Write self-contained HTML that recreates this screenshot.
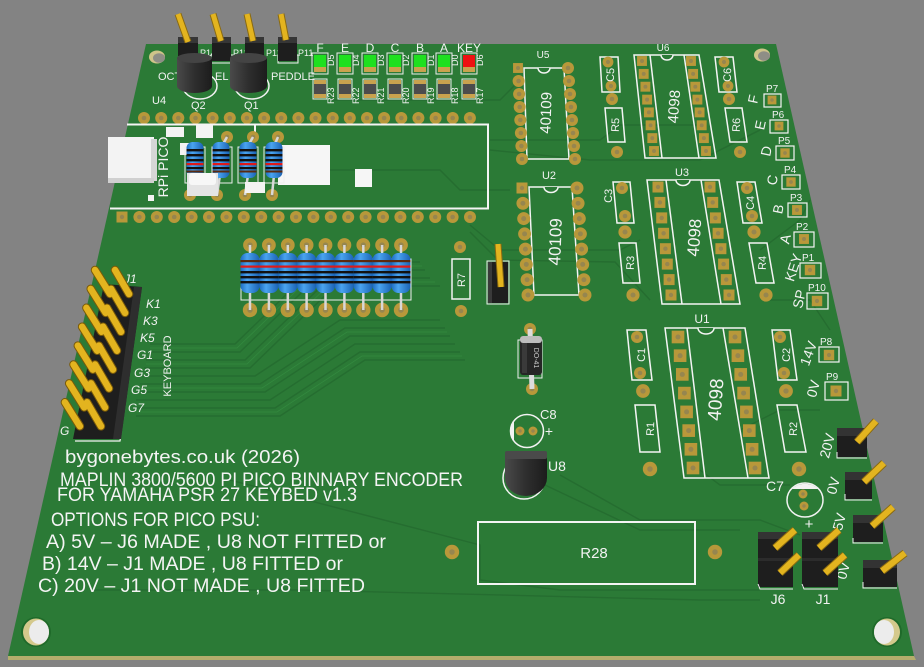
<!DOCTYPE html>
<html><head><meta charset="utf-8"><style>html,body{margin:0;padding:0;background:#838383}svg{display:block}</style></head><body>
<svg width="924" height="667" viewBox="0 0 924 667" xmlns="http://www.w3.org/2000/svg" xmlns:xlink="http://www.w3.org/1999/xlink" font-family="'Liberation Sans', sans-serif">
<defs>
<linearGradient id="cyl" x1="0" x2="1" y1="0" y2="0"><stop offset="0" stop-color="#4a4a4a"/><stop offset="0.5" stop-color="#2e2e2e"/><stop offset="1" stop-color="#1c1c1c"/></linearGradient>
<linearGradient id="blu" x1="0" x2="1" y1="0" y2="0"><stop offset="0" stop-color="#1d6cc0"/><stop offset="0.35" stop-color="#4aa4f0"/><stop offset="1" stop-color="#1a62b4"/></linearGradient>
<g id="p"><circle r="6" fill="#b8983a"/><circle r="2.3" fill="#96864f"/></g>
<g id="sq"><rect x="-5.5" y="-5.5" width="11" height="11" fill="#b8983a"/><circle r="2.2" fill="#96864f"/></g>
<g id="rb">
 <rect x="-9.5" y="0" width="19" height="40" rx="7" fill="url(#blu)"/>
 <rect x="-9.5" y="7" width="19" height="2.2" fill="#5a2a10"/>
 <rect x="-9.5" y="12.5" width="19" height="2.2" fill="#e01818"/>
 <rect x="-9.5" y="18" width="19" height="2.4" fill="#111"/>
 <rect x="-9.5" y="23" width="19" height="2.4" fill="#111"/>
 <rect x="-9.5" y="28" width="19" height="2.4" fill="#111"/>
</g>
<g id="rt">
 <rect x="-8.5" y="0" width="17" height="36" rx="6" fill="url(#blu)"/>
 <rect x="-8.5" y="7" width="17" height="2.4" fill="#111"/>
 <rect x="-8.5" y="12" width="17" height="2.4" fill="#111"/>
 <rect x="-8.5" y="17" width="17" height="2.4" fill="#111"/>
 <rect x="-8.5" y="21" width="17" height="2.2" fill="#e01818"/>
 <rect x="-8.5" y="25" width="17" height="2.2" fill="#111"/>
 <rect x="-8.5" y="28.5" width="17" height="2" fill="#5a2a10"/>
</g>
</defs>
<rect width="924" height="667" fill="#838383"/>
<!-- board -->
<polygon points="8,656 914,656 916,660 8,660" fill="#b4ad6c"/>
<polygon points="146,44 776,44 914,656 8,656" fill="#2b7a36"/>

<!-- traces -->
<g fill="none" stroke="#256d30" stroke-width="1.4">
 <polyline points="150,344 235,344 320,262 420,262"/>
 <polyline points="148,352 240,352 325,270 425,270"/>
 <polyline points="146,360 245,360 330,278 430,278"/>
 <polyline points="144,368 250,368 335,286 440,286"/>
 <polyline points="142,376 255,376 340,320 440,320"/>
 <polyline points="140,384 260,384 345,328 445,328"/>
 <polyline points="138,392 265,392 350,336 450,336"/>
 <polyline points="136,400 270,400 355,344 455,344"/>
 <polyline points="136,408 275,408 360,352 460,352"/>
 <polyline points="136,416 280,416 365,360 465,360"/>
 <polyline points="470,225 500,250 620,250 640,240"/>
 <polyline points="470,232 498,260 615,262 650,300"/>
 <polyline points="330,100 500,100 515,85"/>
 <polyline points="490,140 600,140 620,125 700,125"/>
 <polyline points="490,150 590,160 700,160 760,130"/>
 <polyline points="560,475 640,520 760,520 800,535"/>
 <polyline points="545,485 640,530 740,530"/>
 <polyline points="230,480 480,545 480,580 560,590 760,590"/>
 <polyline points="90,590 300,590 700,600 760,600"/>
 <polyline points="700,470 720,485 790,485"/>
 <polyline points="760,250 800,220 810,200"/>
 <polyline points="770,300 810,300 830,330"/>
 <polyline points="740,430 780,410 820,410"/>
 <polyline points="510,190 460,190 440,170 300,170"/>
</g>
<g fill="none" stroke="#33893f" stroke-width="0.8">
 <polyline points="150,348 237,348 322,266 422,266"/>
 <polyline points="146,364 247,364 332,282 435,282"/>
 <polyline points="140,388 262,388 347,332 447,332"/>
 <polyline points="136,412 277,412 362,356 462,356"/>
</g>

<!-- mounting holes -->
<ellipse cx="157" cy="57" rx="8" ry="6.5" fill="#cfc48a"/><ellipse cx="159" cy="58" rx="6" ry="4.8" fill="#8e8e86"/>
<ellipse cx="762" cy="55" rx="8" ry="6.5" fill="#cfc48a"/><ellipse cx="764" cy="56" rx="6" ry="4.8" fill="#8e8e86"/>
<ellipse cx="36" cy="632" rx="15" ry="15" fill="#1f6a2a"/><ellipse cx="36" cy="632" rx="13" ry="13.5" fill="#d4c98c"/><ellipse cx="39" cy="632" rx="10" ry="12" fill="#ececec"/>
<ellipse cx="887" cy="632" rx="15" ry="15" fill="#1f6a2a"/><ellipse cx="887" cy="632" rx="13" ry="13.5" fill="#d4c98c"/><ellipse cx="884" cy="632" rx="10" ry="12" fill="#ececec"/>

<!-- top left labels -->
<g fill="#f2f2f2" font-size="11">
 <text x="158" y="80">OCT.</text><text x="215" y="80">EL</text><text x="271" y="80">PEDDLE</text>
 <text x="152" y="104">U4</text><text x="191" y="109">Q2</text><text x="244" y="109">Q1</text>
 <text x="200" y="56" font-size="9">P14</text><text x="233" y="56" font-size="9">P13</text><text x="266" y="56" font-size="9">P12</text><text x="298" y="56" font-size="9">P11</text>
</g>
<ellipse cx="200" cy="86" rx="17" ry="13" fill="none" stroke="#f2f2f2" stroke-width="1.5"/>
<ellipse cx="252" cy="86" rx="17" ry="13" fill="none" stroke="#f2f2f2" stroke-width="1.5"/>
<rect x="211" y="55" width="22" height="8" fill="none" stroke="#f2f2f2" stroke-width="1"/>
<rect x="278" y="55" width="20" height="8" fill="none" stroke="#f2f2f2" stroke-width="1"/>
<!-- header bases -->
<g>
 <rect x="178" y="37" width="20" height="19" fill="#1e1e1e"/><rect x="178" y="37" width="20" height="6" fill="#363636"/>
 <rect x="212" y="37" width="19" height="24" fill="#1e1e1e"/><rect x="212" y="37" width="19" height="6" fill="#363636"/>
 <rect x="245" y="37" width="19" height="19" fill="#1e1e1e"/><rect x="245" y="37" width="19" height="6" fill="#363636"/>
 <rect x="278" y="37" width="19" height="24" fill="#1e1e1e"/><rect x="278" y="37" width="19" height="6" fill="#363636"/>
</g>
<g stroke-linecap="butt">
 <line x1="188" y1="42" x2="178" y2="14" stroke="#8a6a10" stroke-width="7"/><line x1="188" y1="42" x2="178" y2="14" stroke="#e3b41f" stroke-width="5"/>
 <line x1="221" y1="41" x2="213" y2="14" stroke="#8a6a10" stroke-width="7"/><line x1="221" y1="41" x2="213" y2="14" stroke="#e3b41f" stroke-width="5"/>
 <line x1="253" y1="41" x2="247" y2="14" stroke="#8a6a10" stroke-width="7"/><line x1="253" y1="41" x2="247" y2="14" stroke="#e3b41f" stroke-width="5"/>
 <line x1="286" y1="40" x2="281" y2="14" stroke="#8a6a10" stroke-width="7"/><line x1="286" y1="40" x2="281" y2="14" stroke="#e3b41f" stroke-width="5"/>
</g>
<!-- transistors -->
<path d="M177,58 L177,86 A17.5,7 0 0 0 212,86 L212,58 Z" fill="url(#cyl)"/>
<ellipse cx="194.5" cy="58" rx="17.5" ry="5" fill="#444"/>
<path d="M230,58 L230,86 A18.5,7 0 0 0 267,86 L267,58 Z" fill="url(#cyl)"/>
<ellipse cx="248.5" cy="58" rx="18.5" ry="5" fill="#444"/>

<!-- LEDs -->
<g font-size="12" fill="#f2f2f2" text-anchor="middle">
 <text x="320" y="52">F</text><text x="345" y="52">E</text><text x="370" y="52">D</text><text x="395" y="52">C</text><text x="420" y="52">B</text><text x="444" y="52">A</text><text x="469" y="52">KEY</text>
</g>
<g>
 <g transform="translate(320,0)"><rect x="-8" y="53" width="16" height="21" fill="none" stroke="#eee" stroke-width="1"/><rect x="-6" y="55" width="12" height="12" fill="#1fe01f"/><rect x="-6" y="67" width="12" height="5" fill="#c9a24e"/><rect x="-7" y="79" width="14" height="20" fill="none" stroke="#eee" stroke-width="1"/><rect x="-6" y="80" width="12" height="4" fill="#c9a24e"/><rect x="-6" y="84" width="12" height="10" fill="#4c4c4c"/><rect x="-6" y="94" width="12" height="4" fill="#c9a24e"/></g>
 <g transform="translate(345,0)"><rect x="-8" y="53" width="16" height="21" fill="none" stroke="#eee" stroke-width="1"/><rect x="-6" y="55" width="12" height="12" fill="#1fe01f"/><rect x="-6" y="67" width="12" height="5" fill="#c9a24e"/><rect x="-7" y="79" width="14" height="20" fill="none" stroke="#eee" stroke-width="1"/><rect x="-6" y="80" width="12" height="4" fill="#c9a24e"/><rect x="-6" y="84" width="12" height="10" fill="#4c4c4c"/><rect x="-6" y="94" width="12" height="4" fill="#c9a24e"/></g>
 <g transform="translate(370,0)"><rect x="-8" y="53" width="16" height="21" fill="none" stroke="#eee" stroke-width="1"/><rect x="-6" y="55" width="12" height="12" fill="#1fe01f"/><rect x="-6" y="67" width="12" height="5" fill="#c9a24e"/><rect x="-7" y="79" width="14" height="20" fill="none" stroke="#eee" stroke-width="1"/><rect x="-6" y="80" width="12" height="4" fill="#c9a24e"/><rect x="-6" y="84" width="12" height="10" fill="#4c4c4c"/><rect x="-6" y="94" width="12" height="4" fill="#c9a24e"/></g>
 <g transform="translate(395,0)"><rect x="-8" y="53" width="16" height="21" fill="none" stroke="#eee" stroke-width="1"/><rect x="-6" y="55" width="12" height="12" fill="#1fe01f"/><rect x="-6" y="67" width="12" height="5" fill="#c9a24e"/><rect x="-7" y="79" width="14" height="20" fill="none" stroke="#eee" stroke-width="1"/><rect x="-6" y="80" width="12" height="4" fill="#c9a24e"/><rect x="-6" y="84" width="12" height="10" fill="#4c4c4c"/><rect x="-6" y="94" width="12" height="4" fill="#c9a24e"/></g>
 <g transform="translate(420,0)"><rect x="-8" y="53" width="16" height="21" fill="none" stroke="#eee" stroke-width="1"/><rect x="-6" y="55" width="12" height="12" fill="#1fe01f"/><rect x="-6" y="67" width="12" height="5" fill="#c9a24e"/><rect x="-7" y="79" width="14" height="20" fill="none" stroke="#eee" stroke-width="1"/><rect x="-6" y="80" width="12" height="4" fill="#c9a24e"/><rect x="-6" y="84" width="12" height="10" fill="#4c4c4c"/><rect x="-6" y="94" width="12" height="4" fill="#c9a24e"/></g>
 <g transform="translate(444,0)"><rect x="-8" y="53" width="16" height="21" fill="none" stroke="#eee" stroke-width="1"/><rect x="-6" y="55" width="12" height="12" fill="#1fe01f"/><rect x="-6" y="67" width="12" height="5" fill="#c9a24e"/><rect x="-7" y="79" width="14" height="20" fill="none" stroke="#eee" stroke-width="1"/><rect x="-6" y="80" width="12" height="4" fill="#c9a24e"/><rect x="-6" y="84" width="12" height="10" fill="#4c4c4c"/><rect x="-6" y="94" width="12" height="4" fill="#c9a24e"/></g>
 <g transform="translate(469,0)"><rect x="-8" y="53" width="16" height="21" fill="none" stroke="#eee" stroke-width="1"/><rect x="-6" y="55" width="12" height="12" fill="#ee1111"/><rect x="-6" y="67" width="12" height="5" fill="#c9a24e"/><rect x="-7" y="79" width="14" height="20" fill="none" stroke="#eee" stroke-width="1"/><rect x="-6" y="80" width="12" height="4" fill="#c9a24e"/><rect x="-6" y="84" width="12" height="10" fill="#4c4c4c"/><rect x="-6" y="94" width="12" height="4" fill="#c9a24e"/></g>
</g>
<g font-size="9" fill="#f2f2f2">
 <text transform="translate(334,66) rotate(-90)">D5</text><text transform="translate(359,66) rotate(-90)">D4</text><text transform="translate(384,66) rotate(-90)">D3</text><text transform="translate(409,66) rotate(-90)">D2</text><text transform="translate(434,66) rotate(-90)">D1</text><text transform="translate(458,66) rotate(-90)">D0</text><text transform="translate(483,66) rotate(-90)">D6</text>
 <text transform="translate(334,104) rotate(-90)">R23</text><text transform="translate(359,104) rotate(-90)">R22</text><text transform="translate(384,104) rotate(-90)">R21</text><text transform="translate(409,104) rotate(-90)">R20</text><text transform="translate(434,104) rotate(-90)">R19</text><text transform="translate(458,104) rotate(-90)">R18</text><text transform="translate(483,104) rotate(-90)">R17</text>
</g>

<!-- pico pad rows -->
<g>
<use xlink:href="#p" transform="translate(144,118)"/><use xlink:href="#p" transform="translate(161.2,118)"/><use xlink:href="#p" transform="translate(178.3,118)"/><use xlink:href="#p" transform="translate(195.5,118)"/><use xlink:href="#p" transform="translate(212.6,118)"/><use xlink:href="#p" transform="translate(229.8,118)"/><use xlink:href="#p" transform="translate(246.9,118)"/><use xlink:href="#p" transform="translate(264.1,118)"/><use xlink:href="#p" transform="translate(281.2,118)"/><use xlink:href="#p" transform="translate(298.4,118)"/><use xlink:href="#p" transform="translate(315.5,118)"/><use xlink:href="#p" transform="translate(332.7,118)"/><use xlink:href="#p" transform="translate(349.8,118)"/><use xlink:href="#p" transform="translate(367,118)"/><use xlink:href="#p" transform="translate(384.1,118)"/><use xlink:href="#p" transform="translate(401.3,118)"/><use xlink:href="#p" transform="translate(418.4,118)"/><use xlink:href="#p" transform="translate(435.6,118)"/><use xlink:href="#p" transform="translate(452.7,118)"/><use xlink:href="#p" transform="translate(469.9,118)"/>
<use xlink:href="#sq" transform="translate(122,217)"/><use xlink:href="#p" transform="translate(139.4,217)"/><use xlink:href="#p" transform="translate(156.8,217)"/><use xlink:href="#p" transform="translate(174.2,217)"/><use xlink:href="#p" transform="translate(191.6,217)"/><use xlink:href="#p" transform="translate(209,217)"/><use xlink:href="#p" transform="translate(226.4,217)"/><use xlink:href="#p" transform="translate(243.8,217)"/><use xlink:href="#p" transform="translate(261.2,217)"/><use xlink:href="#p" transform="translate(278.6,217)"/><use xlink:href="#p" transform="translate(296,217)"/><use xlink:href="#p" transform="translate(313.4,217)"/><use xlink:href="#p" transform="translate(330.8,217)"/><use xlink:href="#p" transform="translate(348.2,217)"/><use xlink:href="#p" transform="translate(365.6,217)"/><use xlink:href="#p" transform="translate(383,217)"/><use xlink:href="#p" transform="translate(400.4,217)"/><use xlink:href="#p" transform="translate(417.8,217)"/><use xlink:href="#p" transform="translate(435.2,217)"/><use xlink:href="#p" transform="translate(452.6,217)"/><use xlink:href="#p" transform="translate(470,217)"/>
</g>
<!-- pico outline -->
<polyline points="127,124.5 488,124.5 488,208.5 110,208.5" fill="none" stroke="#f4f4f4" stroke-width="2"/>
<line x1="255" y1="124" x2="255" y2="134" stroke="#f4f4f4" stroke-width="2"/>
<!-- pico components -->
<rect x="108" y="137" width="46" height="44" fill="#f3f3f3"/><rect x="151" y="139" width="6" height="42" fill="#d6d6d6"/><rect x="108" y="178" width="46" height="5" fill="#d0d0d0"/>
<rect x="166" y="127" width="18" height="10" fill="#f3f3f3"/>
<rect x="196" y="125" width="17" height="13" fill="#f3f3f3"/>
<rect x="180" y="143" width="14" height="12" fill="#f3f3f3"/>
<rect x="278" y="145" width="52" height="40" fill="#f6f6f6"/>
<rect x="355" y="169" width="17" height="18" fill="#f6f6f6"/>
<rect x="148" y="195" width="6" height="6" fill="#f3f3f3"/>
<text transform="translate(168,167) rotate(-90)" text-anchor="middle" font-size="14" fill="#f2f2f2">RPi PICO</text>
<g fill="none" stroke="#eee" stroke-width="1"><rect x="185" y="147" width="20" height="36"/><rect x="212" y="147" width="20" height="36"/><rect x="238" y="147" width="20" height="36"/><rect x="264" y="147" width="20" height="36"/></g>
<use xlink:href="#p" transform="translate(190,195)"/><use xlink:href="#p" transform="translate(217,195)"/><use xlink:href="#p" transform="translate(245,195)"/><use xlink:href="#p" transform="translate(272,195)"/>
<use xlink:href="#p" transform="translate(227,137)"/><use xlink:href="#p" transform="translate(253,137)"/><use xlink:href="#p" transform="translate(278,137)"/>
<g stroke="#d8d8d8" stroke-width="2.5"><line x1="227" y1="137" x2="222" y2="146"/><line x1="253" y1="137" x2="248" y2="146"/><line x1="278" y1="137" x2="274" y2="146"/><line x1="248" y1="175" x2="245" y2="195"/><line x1="274" y1="175" x2="272" y2="195"/><line x1="220" y1="175" x2="217" y2="195"/></g>
<use xlink:href="#rt" transform="translate(195,142)"/><use xlink:href="#rt" transform="translate(221,142)"/><use xlink:href="#rt" transform="translate(248,142)"/><use xlink:href="#rt" transform="translate(274,142)"/>
<rect x="187" y="173" width="31" height="23" fill="#e4e4e4"/><rect x="189" y="173" width="27" height="12" rx="3" fill="#f7f7f7"/>
<rect x="245" y="182" width="20" height="11" fill="#f3f3f3"/>

<!-- nine resistors -->
<rect x="241" y="259" width="170" height="41" fill="none" stroke="#eee" stroke-width="1"/>
<g>
<use xlink:href="#p" transform="translate(250,245) scale(1.15)"/><use xlink:href="#p" transform="translate(268.9,245) scale(1.15)"/><use xlink:href="#p" transform="translate(287.8,245) scale(1.15)"/><use xlink:href="#p" transform="translate(306.6,245) scale(1.15)"/><use xlink:href="#p" transform="translate(325.5,245) scale(1.15)"/><use xlink:href="#p" transform="translate(344.4,245) scale(1.15)"/><use xlink:href="#p" transform="translate(363.3,245) scale(1.15)"/><use xlink:href="#p" transform="translate(382.1,245) scale(1.15)"/><use xlink:href="#p" transform="translate(401,245) scale(1.15)"/>
<use xlink:href="#p" transform="translate(250,310) scale(1.2)"/><use xlink:href="#p" transform="translate(268.9,310) scale(1.2)"/><use xlink:href="#p" transform="translate(287.8,310) scale(1.2)"/><use xlink:href="#p" transform="translate(306.6,310) scale(1.2)"/><use xlink:href="#p" transform="translate(325.5,310) scale(1.2)"/><use xlink:href="#p" transform="translate(344.4,310) scale(1.2)"/><use xlink:href="#p" transform="translate(363.3,310) scale(1.2)"/><use xlink:href="#p" transform="translate(382.1,310) scale(1.2)"/><use xlink:href="#p" transform="translate(401,310) scale(1.2)"/>
</g>
<g stroke="#d8d8d8" stroke-width="2.5">
<line x1="250" y1="245" x2="250" y2="310"/><line x1="268.9" y1="245" x2="268.9" y2="310"/><line x1="287.8" y1="245" x2="287.8" y2="310"/><line x1="306.6" y1="245" x2="306.6" y2="310"/><line x1="325.5" y1="245" x2="325.5" y2="310"/><line x1="344.4" y1="245" x2="344.4" y2="310"/><line x1="363.3" y1="245" x2="363.3" y2="310"/><line x1="382.1" y1="245" x2="382.1" y2="310"/><line x1="401" y1="245" x2="401" y2="310"/>
</g>
<use xlink:href="#rb" transform="translate(250,253)"/><use xlink:href="#rb" transform="translate(268.9,253)"/><use xlink:href="#rb" transform="translate(287.8,253)"/><use xlink:href="#rb" transform="translate(306.6,253)"/><use xlink:href="#rb" transform="translate(325.5,253)"/><use xlink:href="#rb" transform="translate(344.4,253)"/><use xlink:href="#rb" transform="translate(363.3,253)"/><use xlink:href="#rb" transform="translate(382.1,253)"/><use xlink:href="#rb" transform="translate(401,253)"/>

<!-- R7 and jumper -->
<use xlink:href="#p" transform="translate(460,247)"/><use xlink:href="#p" transform="translate(461,311)"/>
<rect x="452" y="259" width="18" height="40" fill="none" stroke="#f2f2f2" stroke-width="1.5"/>
<text transform="translate(465,280) rotate(-90)" text-anchor="middle" font-size="11" fill="#f2f2f2">R7</text>
<rect x="487" y="261" width="22" height="43" fill="none" stroke="#eee" stroke-width="1"/>
<rect x="488" y="262" width="20" height="41" fill="#1e1e1e"/><rect x="488" y="262" width="4" height="41" fill="#3a3a3a"/>
<line x1="498" y1="244" x2="501" y2="287" stroke="#8a6a10" stroke-width="7"/><line x1="498" y1="244" x2="501" y2="287" stroke="#e3b41f" stroke-width="5"/>

<!-- diode -->
<use xlink:href="#p" transform="translate(530,329)"/><use xlink:href="#p" transform="translate(532,389)"/>
<rect x="518" y="340" width="24" height="38" fill="none" stroke="#eee" stroke-width="1"/>
<line x1="530" y1="329" x2="532" y2="389" stroke="#dcdcdc" stroke-width="5"/>
<rect x="520" y="336" width="22" height="39" rx="3" fill="#262626"/><rect x="520" y="336" width="22" height="7" rx="3" fill="#bdbdbd"/><rect x="522" y="343" width="5" height="30" fill="#3a3a3a"/>
<text transform="translate(534,358) rotate(90)" text-anchor="middle" font-size="7" fill="#ccc">DO-41</text>

<!-- C8 and U8 -->
<circle cx="527" cy="431" r="16.5" fill="none" stroke="#f2f2f2" stroke-width="1.5"/>
<path d="M514,421 A16.5,16.5 0 0 0 514,441 Z" fill="#f2f2f2"/>
<use xlink:href="#p" transform="translate(520,431) scale(0.75)"/><use xlink:href="#p" transform="translate(533,431) scale(0.75)"/>
<text x="540" y="419" font-size="13" fill="#f2f2f2">C8</text>
<text x="549" y="436" font-size="14" fill="#f2f2f2" text-anchor="middle">+</text>
<circle cx="524" cy="478" r="21" fill="none" stroke="#f2f2f2" stroke-width="1.5"/>
<path d="M505,455 L505,478 A21,18 0 0 0 547,478 L547,455 Z" fill="url(#cyl)"/>
<rect x="505" y="451" width="42" height="8" rx="2" fill="#4a4a4a"/>
<text x="548" y="471" font-size="14" fill="#f2f2f2">U8</text>

<!-- R28 -->
<rect x="478" y="522" width="217" height="62" fill="none" stroke="#f4f4f4" stroke-width="2"/>
<text x="594" y="558" font-size="15" text-anchor="middle" fill="#f2f2f2">R28</text>
<use xlink:href="#p" transform="translate(452,552) scale(1.2)"/><use xlink:href="#p" transform="translate(715,552) scale(1.2)"/>

<!-- U5 / U2 -->
<polygon points="524,68 564,68 569,159 527,159" fill="none" stroke="#f4f4f4" stroke-width="1.5"/>
<path d="M538,68 A6,5 0 0 0 550,68" fill="#2b7a36" stroke="#f4f4f4" stroke-width="1.5"/>
<text transform="translate(551,113) rotate(-88)" text-anchor="middle" font-size="15" fill="#f2f2f2">40109</text>
<text x="543" y="58" font-size="10" text-anchor="middle" fill="#f2f2f2">U5</text>
<g>
<use xlink:href="#sq" transform="translate(518,68) scale(0.9)"/><use xlink:href="#p" transform="translate(518.6,81)"/><use xlink:href="#p" transform="translate(519.1,94)"/><use xlink:href="#p" transform="translate(519.7,107)"/><use xlink:href="#p" transform="translate(520.3,120)"/><use xlink:href="#p" transform="translate(520.9,133)"/><use xlink:href="#p" transform="translate(521.4,146)"/><use xlink:href="#p" transform="translate(522,159)"/>
<use xlink:href="#p" transform="translate(568,68)"/><use xlink:href="#p" transform="translate(569,81)"/><use xlink:href="#p" transform="translate(570,94)"/><use xlink:href="#p" transform="translate(571,107)"/><use xlink:href="#p" transform="translate(572,120)"/><use xlink:href="#p" transform="translate(573,133)"/><use xlink:href="#p" transform="translate(574,146)"/><use xlink:href="#p" transform="translate(575,159)"/>
</g>
<polygon points="529,187 572,187 579,295 534,295" fill="none" stroke="#f4f4f4" stroke-width="1.5"/>
<path d="M544,187 A7,5.5 0 0 0 558,187" fill="#2b7a36" stroke="#f4f4f4" stroke-width="1.5"/>
<text transform="translate(561,242) rotate(-88)" text-anchor="middle" font-size="17" fill="#f2f2f2">40109</text>
<text x="549" y="179" font-size="11" text-anchor="middle" fill="#f2f2f2">U2</text>
<g>
<use xlink:href="#sq" transform="translate(522,188)"/><use xlink:href="#p" transform="translate(522.9,203.3) scale(1.08)"/><use xlink:href="#p" transform="translate(523.7,218.6) scale(1.08)"/><use xlink:href="#p" transform="translate(524.6,233.9) scale(1.08)"/><use xlink:href="#p" transform="translate(525.4,249.1) scale(1.08)"/><use xlink:href="#p" transform="translate(526.3,264.4) scale(1.08)"/><use xlink:href="#p" transform="translate(527.1,279.7) scale(1.08)"/><use xlink:href="#p" transform="translate(528,295) scale(1.08)"/>
<use xlink:href="#p" transform="translate(577,188) scale(1.08)"/><use xlink:href="#p" transform="translate(578.1,203.3) scale(1.08)"/><use xlink:href="#p" transform="translate(579.3,218.6) scale(1.08)"/><use xlink:href="#p" transform="translate(580.4,233.9) scale(1.08)"/><use xlink:href="#p" transform="translate(581.6,249.1) scale(1.08)"/><use xlink:href="#p" transform="translate(582.7,264.4) scale(1.08)"/><use xlink:href="#p" transform="translate(583.9,279.7) scale(1.08)"/><use xlink:href="#p" transform="translate(585,295) scale(1.08)"/>
</g>

<!-- U6 -->
<polygon points="634,55 699,55 716,158 645,158" fill="none" stroke="#f4f4f4" stroke-width="1.5"/>
<line x1="650" y1="55" x2="662" y2="158" stroke="#f4f4f4" stroke-width="1.5"/><line x1="684" y1="55" x2="699" y2="158" stroke="#f4f4f4" stroke-width="1.5"/>
<path d="M661,55 A6,5 0 0 0 673,55" fill="#2b7a36" stroke="#f4f4f4" stroke-width="1.5"/>
<text transform="translate(679,107) rotate(-86)" text-anchor="middle" font-size="15" fill="#f2f2f2">4098</text>
<text x="663" y="51" font-size="10" text-anchor="middle" fill="#f2f2f2">U6</text>
<g>
<use xlink:href="#sq" transform="translate(642,61) scale(0.9)"/><use xlink:href="#sq" transform="translate(643.7,73.9) scale(0.9)"/><use xlink:href="#sq" transform="translate(645.4,86.7) scale(0.9)"/><use xlink:href="#sq" transform="translate(647.1,99.6) scale(0.9)"/><use xlink:href="#sq" transform="translate(648.9,112.4) scale(0.9)"/><use xlink:href="#sq" transform="translate(650.6,125.3) scale(0.9)"/><use xlink:href="#sq" transform="translate(652.3,138.1) scale(0.9)"/><use xlink:href="#sq" transform="translate(654,151) scale(0.9)"/>
<use xlink:href="#sq" transform="translate(691,61) scale(0.9)"/><use xlink:href="#sq" transform="translate(693.1,73.9) scale(0.9)"/><use xlink:href="#sq" transform="translate(695.3,86.7) scale(0.9)"/><use xlink:href="#sq" transform="translate(697.4,99.6) scale(0.9)"/><use xlink:href="#sq" transform="translate(699.6,112.4) scale(0.9)"/><use xlink:href="#sq" transform="translate(701.7,125.3) scale(0.9)"/><use xlink:href="#sq" transform="translate(703.9,138.1) scale(0.9)"/><use xlink:href="#sq" transform="translate(706,151) scale(0.9)"/>
</g>
<!-- U3 -->
<polygon points="647,180 719,180 740,304 662,304" fill="none" stroke="#f4f4f4" stroke-width="1.5"/>
<line x1="666" y1="180" x2="682" y2="304" stroke="#f4f4f4" stroke-width="1.5"/><line x1="701" y1="180" x2="721" y2="304" stroke="#f4f4f4" stroke-width="1.5"/>
<path d="M676,180 A7,5.5 0 0 0 690,180" fill="#2b7a36" stroke="#f4f4f4" stroke-width="1.5"/>
<text transform="translate(700,238) rotate(-86)" text-anchor="middle" font-size="17" fill="#f2f2f2">4098</text>
<text x="682" y="176" font-size="11" text-anchor="middle" fill="#f2f2f2">U3</text>
<g>
<use xlink:href="#sq" transform="translate(658,187)"/><use xlink:href="#sq" transform="translate(659.9,202.4)"/><use xlink:href="#sq" transform="translate(661.7,217.9)"/><use xlink:href="#sq" transform="translate(663.6,233.3)"/><use xlink:href="#sq" transform="translate(665.4,248.7)"/><use xlink:href="#sq" transform="translate(667.3,264.1)"/><use xlink:href="#sq" transform="translate(669.1,279.6)"/><use xlink:href="#sq" transform="translate(671,295)"/>
<use xlink:href="#sq" transform="translate(710,187)"/><use xlink:href="#sq" transform="translate(712.7,202.4)"/><use xlink:href="#sq" transform="translate(715.4,217.9)"/><use xlink:href="#sq" transform="translate(718.1,233.3)"/><use xlink:href="#sq" transform="translate(720.9,248.7)"/><use xlink:href="#sq" transform="translate(723.6,264.1)"/><use xlink:href="#sq" transform="translate(726.3,279.6)"/><use xlink:href="#sq" transform="translate(729,295)"/>
</g>
<!-- U1 -->
<polygon points="665,328 745,328 769,478 684,478" fill="none" stroke="#f4f4f4" stroke-width="1.5"/>
<line x1="687" y1="328" x2="705" y2="478" stroke="#f4f4f4" stroke-width="1.5"/><line x1="723" y1="328" x2="748" y2="478" stroke="#f4f4f4" stroke-width="1.5"/>
<path d="M698,328 A8,6 0 0 0 714,328" fill="#2b7a36" stroke="#f4f4f4" stroke-width="1.5"/>
<text transform="translate(722,400) rotate(-86)" text-anchor="middle" font-size="19" fill="#f2f2f2">4098</text>
<text x="702" y="323" font-size="12" text-anchor="middle" fill="#f2f2f2">U1</text>
<g>
<use xlink:href="#sq" transform="translate(678,337) scale(1.15)"/><use xlink:href="#sq" transform="translate(680.1,355.7) scale(1.15)"/><use xlink:href="#sq" transform="translate(682.3,374.4) scale(1.15)"/><use xlink:href="#sq" transform="translate(684.4,393.1) scale(1.15)"/><use xlink:href="#sq" transform="translate(686.6,411.9) scale(1.15)"/><use xlink:href="#sq" transform="translate(688.7,430.6) scale(1.15)"/><use xlink:href="#sq" transform="translate(690.9,449.3) scale(1.15)"/><use xlink:href="#sq" transform="translate(693,468) scale(1.15)"/>
<use xlink:href="#sq" transform="translate(735,337) scale(1.15)"/><use xlink:href="#sq" transform="translate(737.9,355.7) scale(1.15)"/><use xlink:href="#sq" transform="translate(740.7,374.4) scale(1.15)"/><use xlink:href="#sq" transform="translate(743.6,393.1) scale(1.15)"/><use xlink:href="#sq" transform="translate(746.4,411.9) scale(1.15)"/><use xlink:href="#sq" transform="translate(749.3,430.6) scale(1.15)"/><use xlink:href="#sq" transform="translate(752.1,449.3) scale(1.15)"/><use xlink:href="#sq" transform="translate(755,468) scale(1.15)"/>
</g>

<!-- caps / resistors right -->
<g fill="none" stroke="#f4f4f4" stroke-width="1.5">
 <polygon points="600,57 618,57 620,92 602,92"/><polygon points="715,57 733,57 737,92 719,92"/>
 <polygon points="605,108 622,108 625,142 608,142"/><polygon points="725,108 742,108 747,142 730,142"/>
 <polygon points="613,182 630,182 634,223 617,223"/><polygon points="737,182 755,182 762,223 743,223"/>
 <polygon points="619,243 636,243 640,283 623,283"/><polygon points="749,243 767,243 774,283 756,283"/>
 <polygon points="627,330 646,330 652,380 632,380"/><polygon points="772,330 790,330 797,380 778,380"/>
 <polygon points="635,405 655,405 660,452 640,452"/><polygon points="777,405 797,405 806,452 785,452"/>
</g>
<g>
 <use xlink:href="#p" transform="translate(608,62) scale(0.9)"/><use xlink:href="#p" transform="translate(611,86) scale(0.9)"/><use xlink:href="#p" transform="translate(612,99)"/>
 <use xlink:href="#p" transform="translate(724,62) scale(0.9)"/><use xlink:href="#p" transform="translate(728,86) scale(0.9)"/><use xlink:href="#p" transform="translate(729,99)"/>
 <use xlink:href="#p" transform="translate(617,152)"/><use xlink:href="#p" transform="translate(740,152)"/>
 <use xlink:href="#p" transform="translate(622,188)"/><use xlink:href="#p" transform="translate(625,216)"/><use xlink:href="#p" transform="translate(625,232) scale(1.1)"/>
 <use xlink:href="#p" transform="translate(747,188)"/><use xlink:href="#p" transform="translate(752,216)"/><use xlink:href="#p" transform="translate(754,232) scale(1.1)"/>
 <use xlink:href="#p" transform="translate(633,295) scale(1.1)"/><use xlink:href="#p" transform="translate(766,295) scale(1.1)"/>
 <use xlink:href="#p" transform="translate(637,337)"/><use xlink:href="#p" transform="translate(640,373)"/><use xlink:href="#p" transform="translate(643,391) scale(1.15)"/>
 <use xlink:href="#p" transform="translate(780,337)"/><use xlink:href="#p" transform="translate(784,373)"/><use xlink:href="#p" transform="translate(786,391) scale(1.15)"/>
 <use xlink:href="#p" transform="translate(650,469) scale(1.2)"/><use xlink:href="#p" transform="translate(799,469) scale(1.2)"/>
</g>
<g font-size="11" fill="#f2f2f2" text-anchor="middle">
 <text transform="translate(614,75) rotate(-88)">C5</text><text transform="translate(731,75) rotate(-88)">C6</text>
 <text transform="translate(619,125) rotate(-88)">R5</text><text transform="translate(740,125) rotate(-88)">R6</text>
 <text transform="translate(612,196) rotate(-88)">C3</text><text transform="translate(754,203) rotate(-88)">C4</text>
 <text transform="translate(634,263) rotate(-88)">R3</text><text transform="translate(766,263) rotate(-88)">R4</text>
 <text transform="translate(645,355) rotate(-88)">C1</text><text transform="translate(790,355) rotate(-88)">C2</text>
 <text transform="translate(654,429) rotate(-88)">R1</text><text transform="translate(797,429) rotate(-88)">R2</text>
</g>

<!-- P connectors -->
<g fill="none" stroke="#f4f4f4" stroke-width="1.2">
 <rect x="764" y="94" width="17" height="13"/><rect x="770" y="120" width="18" height="13"/><rect x="776" y="146" width="18" height="14"/><rect x="782" y="175" width="18" height="14"/><rect x="788" y="203" width="19" height="14"/><rect x="794" y="232" width="20" height="15"/><rect x="800" y="263" width="21" height="15"/><rect x="807" y="293" width="21" height="16"/><rect x="819" y="347" width="20" height="15"/><rect x="825" y="382" width="23" height="18"/>
</g>
<g>
 <use xlink:href="#sq" transform="translate(772,100) scale(0.8)"/><use xlink:href="#sq" transform="translate(779,126) scale(0.8)"/><use xlink:href="#sq" transform="translate(785,153) scale(0.85)"/><use xlink:href="#sq" transform="translate(791,182) scale(0.85)"/><use xlink:href="#sq" transform="translate(797,210) scale(0.9)"/><use xlink:href="#sq" transform="translate(804,239) scale(0.9)"/><use xlink:href="#sq" transform="translate(810,270) scale(0.95)"/><use xlink:href="#sq" transform="translate(817,301) scale(0.95)"/><use xlink:href="#sq" transform="translate(829,355) scale(0.95)"/><use xlink:href="#sq" transform="translate(836,391)"/>
</g>
<g font-size="10" fill="#f2f2f2">
 <text x="766" y="92">P7</text><text x="772" y="118">P6</text><text x="778" y="144">P5</text><text x="784" y="173">P4</text><text x="790" y="201">P3</text><text x="796" y="230">P2</text><text x="802" y="261">P1</text><text x="808" y="291">P10</text><text x="820" y="345">P8</text><text x="826" y="380">P9</text>
</g>
<g font-size="14" fill="#f2f2f2" text-anchor="middle">
 <text transform="translate(758,100) rotate(-78)">F</text><text transform="translate(765,126) rotate(-78)">E</text><text transform="translate(771,152) rotate(-78)">D</text><text transform="translate(777,181) rotate(-78)">C</text><text transform="translate(783,210) rotate(-78)">B</text><text transform="translate(790,240) rotate(-78)">A</text><text transform="translate(798,269) rotate(-72)">KEY</text><text transform="translate(804,300) rotate(-78)">SP</text>
 <text transform="translate(813,355) rotate(-70)">14V</text><text transform="translate(818,390) rotate(-75)">0V</text>
 <text transform="translate(832,447) rotate(-75)">20V</text><text transform="translate(838,487) rotate(-75)">0V</text><text transform="translate(844,523) rotate(-75)">5V</text><text transform="translate(848,572) rotate(-75)">0V</text>
</g>

<!-- C7 -->
<ellipse cx="805" cy="500" rx="18" ry="17" fill="none" stroke="#f2f2f2" stroke-width="1.5"/>
<path d="M792,489 A18,17 0 0 1 818,489 Z" fill="#f2f2f2"/>
<use xlink:href="#p" transform="translate(803,494) scale(0.75)"/><use xlink:href="#p" transform="translate(804,506) scale(0.75)"/>
<text x="766" y="491" font-size="14" fill="#f2f2f2">C7</text>
<text x="809" y="529" font-size="15" text-anchor="middle" fill="#f2f2f2">+</text>

<!-- right headers -->
<g>
 <rect x="837" y="428" width="30" height="29" fill="#1e1e1e"/><rect x="837" y="428" width="30" height="8" fill="#333"/>
 <rect x="845" y="472" width="27" height="27" fill="#1e1e1e"/><rect x="845" y="472" width="27" height="8" fill="#333"/>
 <rect x="853" y="515" width="30" height="27" fill="#1e1e1e"/><rect x="853" y="515" width="30" height="8" fill="#333"/>
 <rect x="863" y="560" width="34" height="27" fill="#1e1e1e"/><rect x="863" y="560" width="34" height="8" fill="#333"/>
 <rect x="758" y="532" width="35" height="55" fill="#1e1e1e"/><rect x="758" y="532" width="35" height="7" fill="#333"/><rect x="758" y="558" width="35" height="3" fill="#2c2c2c"/>
 <rect x="802" y="532" width="36" height="55" fill="#1e1e1e"/><rect x="802" y="532" width="36" height="7" fill="#333"/><rect x="802" y="558" width="36" height="3" fill="#2c2c2c"/>
</g>
<g fill="none" stroke="#f2f2f2" stroke-width="1"><polyline points="837,452 837,458 867,458"/><polyline points="845,494 845,500 872,500"/><polyline points="853,538 853,543 883,543"/><polyline points="863,582 863,588 897,588"/><polyline points="758,584 760,589 793,589"/><polyline points="802,584 804,589 838,589"/></g>
<g stroke-linecap="butt">
 <line x1="857" y1="442" x2="876" y2="421" stroke="#8a6a10" stroke-width="8"/><line x1="857" y1="442" x2="876" y2="421" stroke="#e3b41f" stroke-width="6"/>
 <line x1="864" y1="482" x2="884" y2="463" stroke="#8a6a10" stroke-width="8"/><line x1="864" y1="482" x2="884" y2="463" stroke="#e3b41f" stroke-width="6"/>
 <line x1="872" y1="526" x2="893" y2="507" stroke="#8a6a10" stroke-width="8"/><line x1="872" y1="526" x2="893" y2="507" stroke="#e3b41f" stroke-width="6"/>
 <line x1="882" y1="571" x2="905" y2="553" stroke="#8a6a10" stroke-width="8"/><line x1="882" y1="571" x2="905" y2="553" stroke="#e3b41f" stroke-width="6"/>
 <line x1="775" y1="548" x2="795" y2="530" stroke="#8a6a10" stroke-width="8"/><line x1="775" y1="548" x2="795" y2="530" stroke="#e3b41f" stroke-width="6"/>
 <line x1="780" y1="573" x2="799" y2="555" stroke="#8a6a10" stroke-width="8"/><line x1="780" y1="573" x2="799" y2="555" stroke="#e3b41f" stroke-width="6"/>
 <line x1="819" y1="548" x2="839" y2="530" stroke="#8a6a10" stroke-width="8"/><line x1="819" y1="548" x2="839" y2="530" stroke="#e3b41f" stroke-width="6"/>
 <line x1="825" y1="573" x2="845" y2="555" stroke="#8a6a10" stroke-width="8"/><line x1="825" y1="573" x2="845" y2="555" stroke="#e3b41f" stroke-width="6"/>
</g>
<text x="778" y="604" font-size="14" text-anchor="middle" fill="#f2f2f2">J6</text>
<text x="823" y="604" font-size="14" text-anchor="middle" fill="#f2f2f2">J1</text>

<!-- keyboard header -->
<g font-size="12" fill="#f2f2f2" font-style="italic">
 <text x="124" y="283">J1</text><text x="146" y="308">K1</text><text x="143" y="325">K3</text><text x="140" y="342">K5</text><text x="137" y="359">G1</text><text x="134" y="377">G3</text><text x="131" y="394">G5</text><text x="128" y="412">G7</text><text x="60" y="435">G</text>
</g>
<text transform="translate(171,366) rotate(-90)" text-anchor="middle" font-size="11" fill="#f2f2f2">KEYBOARD</text>
<polyline points="75,441 120,441 140,292" fill="none" stroke="#f2f2f2" stroke-width="1.2"/>
<polygon points="104,284 142,287 121,439 73,439" fill="#1e1e1e"/>
<polygon points="134,287 142,287 121,439 113,439" fill="#2e2e2e"/>
<g stroke-linecap="round">
 <g stroke="#7a5a08" stroke-width="8.5">
  <line x1="110" y1="294" x2="95" y2="270"/><line x1="105.7" y1="312.9" x2="90.7" y2="288.9"/><line x1="101.4" y1="331.8" x2="86.4" y2="307.8"/><line x1="97.1" y1="350.7" x2="82.1" y2="326.7"/><line x1="92.8" y1="369.6" x2="77.8" y2="345.6"/><line x1="88.5" y1="388.5" x2="73.5" y2="364.5"/><line x1="84.2" y1="407.4" x2="69.2" y2="383.4"/><line x1="79.9" y1="426.3" x2="64.9" y2="402.3"/>
  <line x1="129" y1="294" x2="115" y2="270"/><line x1="125" y1="312.9" x2="111" y2="288.9"/><line x1="121" y1="331.8" x2="107" y2="307.8"/><line x1="117" y1="350.7" x2="103" y2="326.7"/><line x1="113" y1="369.6" x2="99" y2="345.6"/><line x1="109" y1="388.5" x2="95" y2="364.5"/><line x1="105" y1="407.4" x2="91" y2="383.4"/><line x1="101" y1="426.3" x2="87" y2="402.3"/>
 </g>
 <g stroke="#e3b41f" stroke-width="6.5">
  <line x1="110" y1="294" x2="95" y2="270"/><line x1="105.7" y1="312.9" x2="90.7" y2="288.9"/><line x1="101.4" y1="331.8" x2="86.4" y2="307.8"/><line x1="97.1" y1="350.7" x2="82.1" y2="326.7"/><line x1="92.8" y1="369.6" x2="77.8" y2="345.6"/><line x1="88.5" y1="388.5" x2="73.5" y2="364.5"/><line x1="84.2" y1="407.4" x2="69.2" y2="383.4"/><line x1="79.9" y1="426.3" x2="64.9" y2="402.3"/>
  <line x1="129" y1="294" x2="115" y2="270"/><line x1="125" y1="312.9" x2="111" y2="288.9"/><line x1="121" y1="331.8" x2="107" y2="307.8"/><line x1="117" y1="350.7" x2="103" y2="326.7"/><line x1="113" y1="369.6" x2="99" y2="345.6"/><line x1="109" y1="388.5" x2="95" y2="364.5"/><line x1="105" y1="407.4" x2="91" y2="383.4"/><line x1="101" y1="426.3" x2="87" y2="402.3"/>
 </g>
</g>

<!-- bottom-left text -->
<g fill="#f4f4f4" font-size="19">
 <text x="65" y="463" font-size="18" textLength="235" lengthAdjust="spacingAndGlyphs">bygonebytes.co.uk (2026)</text>
 <text x="60" y="486" textLength="403" lengthAdjust="spacingAndGlyphs">MAPLIN 3800/5600 PI PICO BINNARY ENCODER</text>
 <text x="57" y="501" textLength="300" lengthAdjust="spacingAndGlyphs">FOR YAMAHA PSR 27 KEYBED v1.3</text>
 <text x="51" y="526" textLength="209" lengthAdjust="spacingAndGlyphs">OPTIONS FOR PICO PSU:</text>
 <text x="46" y="548" textLength="340" lengthAdjust="spacingAndGlyphs">A) 5V – J6 MADE , U8 NOT FITTED or</text>
 <text x="42" y="570" textLength="301" lengthAdjust="spacingAndGlyphs">B) 14V – J1 MADE , U8 FITTED or</text>
 <text x="38" y="592" textLength="327" lengthAdjust="spacingAndGlyphs">C) 20V – J1 NOT MADE , U8 FITTED</text>
</g>
</svg>
</body></html>
